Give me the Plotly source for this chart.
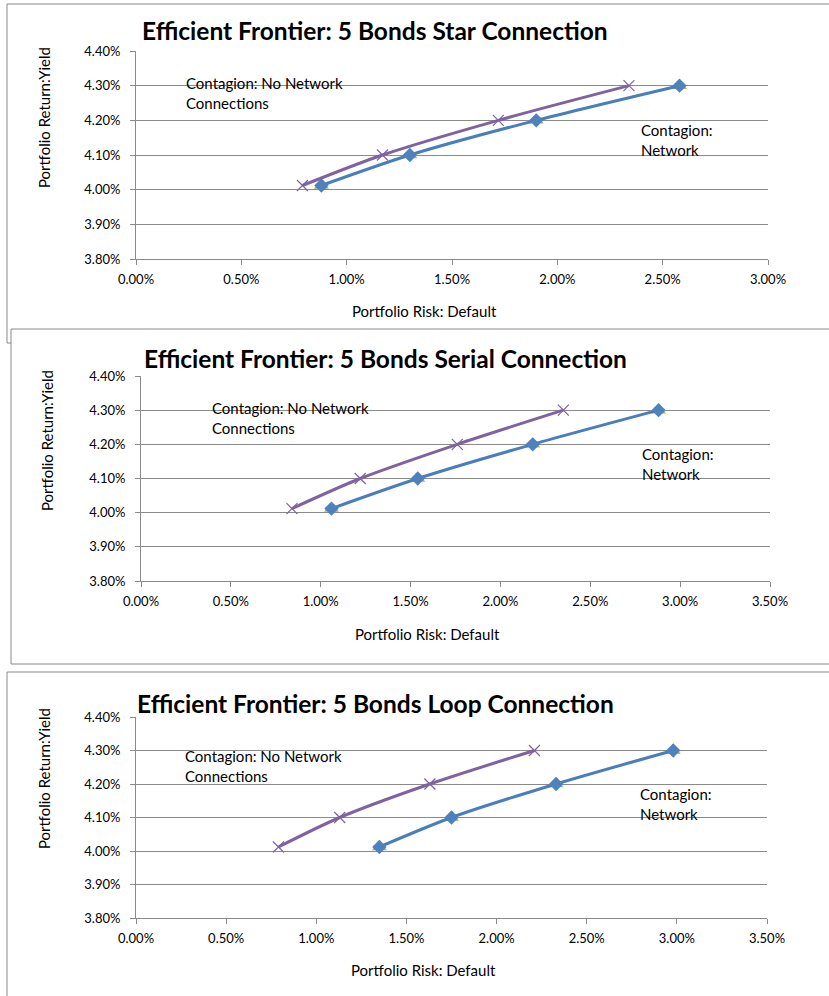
import plotly.graph_objects as go

# Portfolio return levels (yield, %) shared by every frontier
returns = [4.012, 4.10, 4.20, 4.30]

# Portfolio risk (default, %) for each network topology
star_no_network = [0.79, 1.17, 1.72, 2.34]
star_network = [0.88, 1.30, 1.90, 2.58]
serial_no_network = [0.84, 1.22, 1.76, 2.35]
serial_network = [1.06, 1.54, 2.18, 2.88]
loop_no_network = [0.79, 1.13, 1.63, 2.21]
loop_network = [1.35, 1.75, 2.33, 2.98]

titles = [
    "Efficient Frontier: 5 Bonds Star Connection",
    "Efficient Frontier: 5 Bonds Serial Connection",
    "Efficient Frontier: 5 Bonds Loop Connection",
]
x_max = [3.0, 3.5, 3.5]

W, H = 829, 996
FONT = "Lato"
GRAY = "#8a8a8a"
PURPLE = "#7f63a1"
BLUE = "#4a7ebb"
DIAMOND = "#4f81bd"
GREEN = "#9bbb59"


def px(x):
    return x / W


def py(y):
    return 1 - y / H


# panel geometry in pixels: plot box, title, axis titles, notes, frame
panels = [
    dict(plot=(136, 768, 51, 259), title=(375, 30), ytitle=(44, 118), xtitle=(424, 311),
         note1=(184, 83), note2=(639, 130), frame=(7, 4, 840, 343)),
    dict(plot=(141, 770, 376, 581), title=(385, 358), ytitle=(47, 441), xtitle=(427, 634),
         note1=(210, 408), note2=(640, 454), frame=(11, 329, 840, 664)),
    dict(plot=(136, 767, 717, 918), title=(375, 703), ytitle=(44, 779), xtitle=(423, 970),
         note1=(183, 756), note2=(638, 794), frame=(7, 672, 840, 1010)),
]

series = [
    (star_no_network, star_network),
    (serial_no_network, serial_network),
    (loop_no_network, loop_network),
]

fig = go.Figure()
shapes = []
annotations = []
layout_axes = {}
text_font = dict(family=FONT, size=15, color="#000000")

for i, (panel, (no_net, net)) in enumerate(zip(panels, series)):
    n = "" if i == 0 else str(i + 1)
    xa, ya = "x" + n, "y" + n

    # green markers sit underneath the network curve
    fig.add_trace(go.Scatter(
        x=net, y=returns, xaxis=xa, yaxis=ya, mode="markers",
        marker=dict(symbol="triangle-up", size=13, color=GREEN),
        showlegend=False, hoverinfo="skip"))
    fig.add_trace(go.Scatter(
        x=net, y=returns, xaxis=xa, yaxis=ya, mode="lines+markers",
        line=dict(color=BLUE, width=3, shape="spline", smoothing=0.8),
        marker=dict(symbol="diamond", size=11, color=DIAMOND),
        name="Contagion: Network", showlegend=False))
    fig.add_trace(go.Scatter(
        x=no_net, y=returns, xaxis=xa, yaxis=ya, mode="lines+markers",
        line=dict(color=PURPLE, width=3, shape="spline", smoothing=0.8),
        marker=dict(symbol="x-thin", size=11, line=dict(color=PURPLE, width=1.2)),
        name="Contagion: No Network Connections", showlegend=False))

    x0, x1, y0, y1 = panel["plot"]
    tick_font = dict(family=FONT, size=13, color="#000000")
    layout_axes["xaxis" + n] = dict(
        domain=[px(x0), px(x1)], anchor=ya, range=[0, x_max[i]],
        tickmode="linear", tick0=0, dtick=0.5,
        tickformat=".2f", ticksuffix="%", showgrid=False, zeroline=False,
        showline=True, linecolor=GRAY, linewidth=1, ticks="outside",
        ticklen=5, tickcolor=GRAY, tickfont=tick_font, ticklabelstandoff=3,
        automargin=False)
    layout_axes["yaxis" + n] = dict(
        domain=[py(y1), py(y0)], anchor=xa, range=[3.8, 4.4],
        tickmode="linear", tick0=3.8, dtick=0.1,
        tickformat=".2f", ticksuffix="%",
        showgrid=True, gridcolor=GRAY, gridwidth=1, zeroline=False,
        showline=True, linecolor=GRAY, linewidth=1, ticks="outside",
        ticklen=5, tickcolor=GRAY, tickfont=tick_font, ticklabelstandoff=7,
        automargin=False)

    fx0, fy0, fx1, fy1 = panel["frame"]
    shapes.append(dict(type="rect", xref="paper", yref="paper",
                       x0=px(fx0), x1=px(fx1), y0=py(fy1), y1=py(fy0),
                       line=dict(color=GRAY, width=1), fillcolor="white",
                       layer="below"))

    tx, ty = panel["title"]
    annotations.append(dict(text="<b>" + titles[i] + "</b>", xref="paper", yref="paper",
                            x=px(tx), y=py(ty), xanchor="center", yanchor="middle",
                            showarrow=False, font=dict(family=FONT, size=24.5, color="#000000")))
    ax_, ay_ = panel["ytitle"]
    annotations.append(dict(text="Portfolio Return:Yield", xref="paper", yref="paper",
                            x=px(ax_), y=py(ay_), xanchor="center", yanchor="middle",
                            textangle=-90, showarrow=False, font=text_font))
    bx, by = panel["xtitle"]
    annotations.append(dict(text="Portfolio Risk: Default", xref="paper", yref="paper",
                            x=px(bx), y=py(by), xanchor="center", yanchor="middle",
                            showarrow=False, font=text_font))

    for (lx, ly), lines in ((panel["note1"], ["Contagion: No Network", "Connections"]),
                            (panel["note2"], ["Contagion:", "Network"])):
        for k, line in enumerate(lines):
            annotations.append(dict(text=line, xref="paper", yref="paper",
                                    x=px(lx), y=py(ly + 20 * k), xanchor="left",
                                    yanchor="middle", showarrow=False, font=text_font))

fig.update_layout(
    width=W, height=H,
    margin=dict(l=0, r=0, t=0, b=0),
    paper_bgcolor="white", plot_bgcolor="rgba(0,0,0,0)",
    showlegend=False,
    shapes=shapes, annotations=annotations,
    **layout_axes)

fig.write_html("out.html")
